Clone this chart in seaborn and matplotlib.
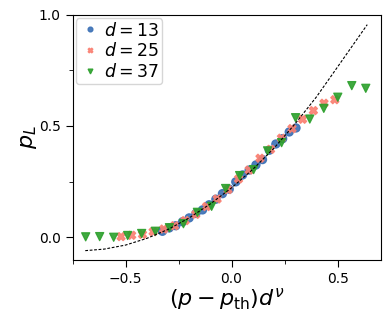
import numpy as np
import pandas as pd
import seaborn as sns
import matplotlib
matplotlib.use("Agg")
import matplotlib.pyplot as plt

# %% data
x_d13 = [-0.326, -0.294, -0.263, -0.231, -0.200, -0.168, -0.137, -0.106, -0.074,
         -0.043, -0.011, 0.020, 0.052, 0.083, 0.115, 0.146, 0.178, 0.209, 0.241,
         0.272, 0.304]
y_d13 = [0.027, 0.042, 0.052, 0.070, 0.087, 0.107, 0.123, 0.146, 0.171, 0.196,
         0.216, 0.249, 0.280, 0.302, 0.325, 0.349, 0.391, 0.419, 0.443, 0.473,
         0.491]

x_d25 = [-0.521, -0.471, -0.420, -0.370, -0.320, -0.269, -0.219, -0.169, -0.118,
         -0.068, -0.017, 0.033, 0.083, 0.134, 0.184, 0.235, 0.285, 0.335, 0.386,
         0.436, 0.487]
y_d25 = [0.003, 0.009, 0.013, 0.025, 0.037, 0.052, 0.075, 0.103, 0.138, 0.172,
         0.214, 0.262, 0.302, 0.355, 0.395, 0.445, 0.488, 0.530, 0.569, 0.602,
         0.618]

x_d37 = [-0.688, -0.622, -0.556, -0.490, -0.424, -0.359, -0.293, -0.227, -0.161,
         -0.094, -0.028, 0.038, 0.104, 0.170, 0.236, 0.302, 0.369, 0.435, 0.501,
         0.567, 0.633]
y_d37 = [0.002, 0.003, 0.000, 0.008, 0.017, 0.027, 0.043, 0.061, 0.112, 0.139,
         0.219, 0.277, 0.304, 0.388, 0.425, 0.537, 0.531, 0.579, 0.629, 0.681,
         0.669]

# fitted curve (dashed)
x_fit = [-0.69, -0.6, -0.5, -0.4, -0.3, -0.2, -0.1, 0.0, 0.1, 0.2, 0.3, 0.4, 0.5, 0.64]
y_fit = [-0.060, -0.053, -0.035, -0.005, 0.035, 0.087, 0.150, 0.222, 0.305,
         0.400, 0.510, 0.630, 0.765, 0.955]

labels = [r"$d = 13$", r"$d = 25$", r"$d = 37$"]
colors = ["#3a6fb5", "#fa8072", "#2ca02c"]
markers = ["o", "X", "v"]


def main():
    sns.set_style("ticks", {"axes.edgecolor": "black", "text.color": "black",
                            "xtick.color": "black", "ytick.color": "black",
                            "axes.labelcolor": "black"})
    df = pd.concat([
        pd.DataFrame({"x": x_d13, "y": y_d13, "d": labels[0]}),
        pd.DataFrame({"x": x_d25, "y": y_d25, "d": labels[1]}),
        pd.DataFrame({"x": x_d37, "y": y_d37, "d": labels[2]}),
    ])

    fig = plt.figure(figsize=(3.9, 3.25), dpi=100)
    ax = fig.add_axes([0.186, 0.2, 0.791, 0.755])

    ax.plot(x_fit, y_fit, ls="--", color="black", lw=0.8, dashes=(2.5, 1.5))
    sns.scatterplot(data=df, x="x", y="y", hue="d", style="d",
                    palette=colors, markers=markers, s=34, ax=ax,
                    edgecolor="face", linewidth=0.9, alpha=0.9)

    ax.set_xlim(-0.75, 0.705)
    ax.set_ylim(-0.102, 1.0)
    ax.set_xticks([-0.5, 0.0, 0.5])
    ax.set_xticks([-0.75, -0.25, 0.25], minor=True)
    ax.set_yticks([0.0, 0.5, 1.0])
    ax.set_yticks([0.25, 0.75], minor=True)
    ax.tick_params(axis="both", which="major", labelsize=10, length=5)
    ax.tick_params(axis="both", which="minor", length=3)

    ax.set_xlabel(r"$(p - p_{\mathrm{th}})d^{\nu}$", fontsize=16, labelpad=0)
    ax.set_ylabel(r"$p_L$", fontsize=16, labelpad=0)

    ax.legend(loc="upper left", fontsize=12.5, handletextpad=0.2,
              borderpad=0.2, labelspacing=0.15, handlelength=1.2,
              borderaxespad=0.2, markerscale=0.6)

    fig.savefig("out.png", dpi=100)


if __name__ == "__main__":
    main()
